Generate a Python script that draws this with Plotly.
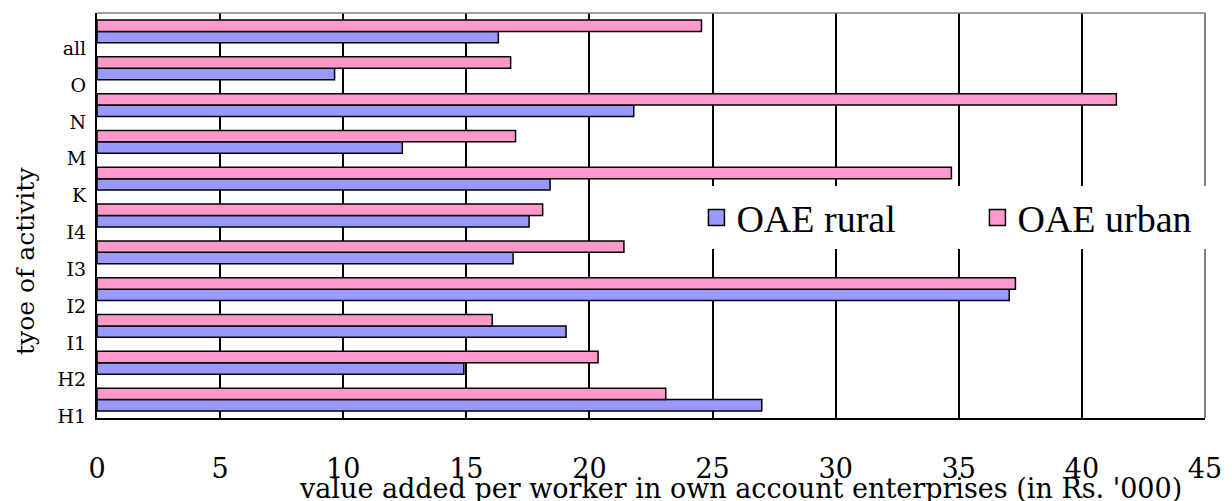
import plotly.graph_objects as go

categories = ["H1", "H2", "I1", "I2", "I3", "I4", "K", "M", "N", "O", "all"]
rural = [27.0, 14.9, 19.05, 37.05, 16.9, 17.55, 18.4, 12.4, 21.8, 9.65, 16.3]
urban = [23.1, 20.35, 16.05, 37.3, 21.4, 18.1, 34.7, 17.0, 41.4, 16.8, 24.55]
x_ticks = [0, 5, 10, 15, 20, 25, 30, 35, 40, 45]

positions = list(range(len(categories)))
label_positions = [p - 0.46 for p in positions]

FONT = "DejaVu Serif"
LEG_FONT = "Liberation Serif"
BLUE = "#9999FF"
PINK = "#FF99CC"

fig = go.Figure()
fig.add_trace(go.Bar(
    y=positions, x=rural, orientation="h", name="OAE rural", showlegend=False,
    legendgroup="rural",
    marker=dict(color=BLUE, line=dict(color="black", width=1.5)),
))
fig.add_trace(go.Bar(
    y=positions, x=urban, orientation="h", name="OAE urban", showlegend=False,
    legendgroup="urban",
    marker=dict(color=PINK, line=dict(color="black", width=1.5)),
))
# legend entries with larger square swatches
fig.add_trace(go.Scatter(
    x=[None], y=[None], mode="markers", name="OAE rural", legendgroup="rural",
    marker=dict(symbol="square", size=16, color=BLUE, line=dict(color="black", width=1.5)),
    legendwidth=236,
))
fig.add_trace(go.Scatter(
    x=[None], y=[None], mode="markers", name="OAE urban", legendgroup="urban",
    marker=dict(symbol="square", size=16, color=PINK, line=dict(color="black", width=1.5)),
    legendwidth=200,
))

fig.update_layout(
    width=1232, height=501,
    margin=dict(l=97, r=27, t=13, b=83, autoexpand=False),
    paper_bgcolor="white", plot_bgcolor="white",
    barmode="group", bargap=0.38, bargroupgap=0,
    font=dict(family=FONT, color="black"),
    showlegend=True,
    legend=dict(
        orientation="h", x=0.541, y=0.572, xanchor="left", yanchor="top",
        bgcolor="white", font=dict(family=LEG_FONT, size=38, color="black"),
        traceorder="normal",
    ),
    xaxis=dict(
        range=[0, 45], tickvals=x_ticks, ticktext=[str(v) for v in x_ticks],
        showgrid=True, gridcolor="black", gridwidth=1.5,
        showline=True, linecolor="black", linewidth=2,
        ticks="", ticklen=0, ticklabelstandoff=26, automargin=False,
        tickfont=dict(family=FONT, size=27, color="black"),
        zeroline=False,
    ),
    yaxis=dict(
        range=[-0.5, 10.5], tickvals=label_positions, ticktext=categories,
        showgrid=False, showline=True, linecolor="black", linewidth=2,
        ticks="", ticklen=0, ticklabelstandoff=5, automargin=False,
        tickfont=dict(family=FONT, size=19, color="black"),
        zeroline=False,
    ),
    shapes=[
        dict(type="line", xref="x domain", yref="y domain", x0=0, x1=1, y0=1, y1=1,
             line=dict(color="#808080", width=1.5), layer="above"),
        dict(type="line", xref="x domain", yref="y domain", x0=1, x1=1, y0=0, y1=1,
             line=dict(color="#808080", width=2), layer="above"),
    ],
    annotations=[
        dict(text="tyoe of activity", xref="paper", yref="paper", x=-0.064, y=0.388,
             xanchor="center", yanchor="middle", textangle=-90, showarrow=False,
             font=dict(family=FONT, size=25, color="black")),
        dict(text="value added per worker in own account enterprises (in Rs. '000)",
             xref="paper", yref="paper", x=0.581, y=-0.175,
             xanchor="center", yanchor="middle", showarrow=False,
             font=dict(family=FONT, size=27, color="black")),
    ],
)

fig.write_html("out.html", config={"displayModeBar": False},
               post_script="document.body.style.margin='0px';")
